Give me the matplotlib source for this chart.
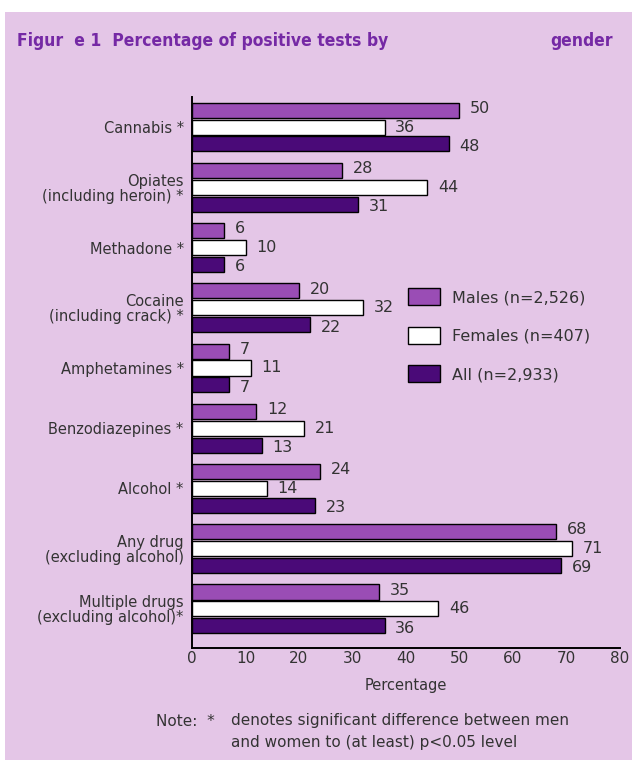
import numpy as np
import matplotlib.pyplot as plt
from matplotlib.patches import Rectangle
from matplotlib import font_manager

# Percentage of positive tests, by substance and gender
categories = ['Cannabis *', 'Opiates\n(including heroin) *', 'Methadone *',
              'Cocaine\n(including crack) *', 'Amphetamines *', 'Benzodiazepines *',
              'Alcohol *', 'Any drug\n(excluding alcohol)',
              'Multiple drugs\n(excluding alcohol)*']
males = [50, 28, 6, 20, 7, 12, 24, 68, 35]
females = [36, 44, 10, 32, 11, 21, 14, 71, 46]
all_people = [48, 31, 6, 22, 7, 13, 23, 69, 36]
series_names = ['Males (n=2,526)', 'Females (n=407)', 'All (n=2,933)']
xticks = [0, 10, 20, 30, 40, 50, 60, 70, 80]

bg = '#e4c6e7'
txt = '#333333'
purple = '#7529a5'
colors = ['#9a4db5', '#ffffff', '#4a0a78']

# narrow bold face for the heading, whichever is installed
installed = {f.name for f in font_manager.fontManager.ttflist}
if 'Liberation Sans Narrow' in installed:
    title_font = font_manager.FontProperties(family='Liberation Sans Narrow',
                                             weight='bold', size=15)
else:
    title_font = font_manager.FontProperties(family='DejaVu Sans', stretch='condensed',
                                             weight='bold', size=12.5)

fig = plt.figure(figsize=(6.32, 7.6), dpi=100)
fig.patch.set_facecolor('white')
fig.patches.append(Rectangle((5 / 632, 0), 1, 1 - 12 / 760, transform=fig.transFigure,
                             facecolor=bg, edgecolor='none', zorder=-10))

fig.text(17 / 632, 1 - 41 / 760, 'Figur  e 1  Percentage of positive tests by',
         color=purple, fontproperties=title_font, va='center')
fig.text(613 / 632, 1 - 41 / 760, 'gender', color=purple, fontproperties=title_font,
         va='center', ha='right')

ax = fig.add_axes([192 / 632, 1 - 648 / 760, 428 / 632, 551 / 760])
ax.set_facecolor('none')

y = np.arange(len(categories))
h = 0.25
offsets = [-0.28, 0.0, 0.28]
label_dy = [-0.03, 0.0, 0.04]
for vals, off, col, name, dy in zip([males, females, all_people], offsets, colors,
                                    series_names, label_dy):
    ax.barh(y + off, vals, height=h, color=col, edgecolor='black', linewidth=1.0,
            label=name)
    for yi, v in zip(y, vals):
        ax.text(v + 2, yi + off + dy, str(v), va='center', ha='left',
                fontsize=11.5, color=txt)

ax.set_ylim(len(categories) - 0.35, -0.5)
ax.set_xlim(0, 80)
ax.set_yticks(y)
ax.set_yticklabels(categories, fontsize=10.5, color=txt, linespacing=1.0)
ax.set_xticks(xticks)
ax.set_xticklabels([str(t) for t in xticks], fontsize=11, color=txt)
ax.tick_params(axis='y', length=0, pad=6)
ax.tick_params(axis='x', length=0, pad=2)
for s in ['top', 'right']:
    ax.spines[s].set_visible(False)
for s in ['left', 'bottom']:
    ax.spines[s].set_color('black')
    ax.spines[s].set_linewidth(1.4)
ax.set_xlabel('Percentage', fontsize=10.5, color=txt, labelpad=9)

ax.legend(loc='upper left', bbox_to_anchor=(394 / 632, 1 - 274 / 760),
          bbox_transform=fig.transFigure, frameon=False, fontsize=11.5,
          handlelength=2.0, handleheight=1.25, labelspacing=1.35,
          handletextpad=0.7, labelcolor=txt)

fig.text(156 / 632, 1 - 721 / 760, 'Note:  *', fontsize=11, color=txt, va='center')
fig.text(231 / 632, 1 - 721 / 760, 'denotes significant difference between men',
         fontsize=11, color=txt, va='center')
fig.text(231 / 632, 1 - 743 / 760, 'and women to (at least) p<0.05 level',
         fontsize=11, color=txt, va='center')

fig.savefig('out.png', dpi=100)
